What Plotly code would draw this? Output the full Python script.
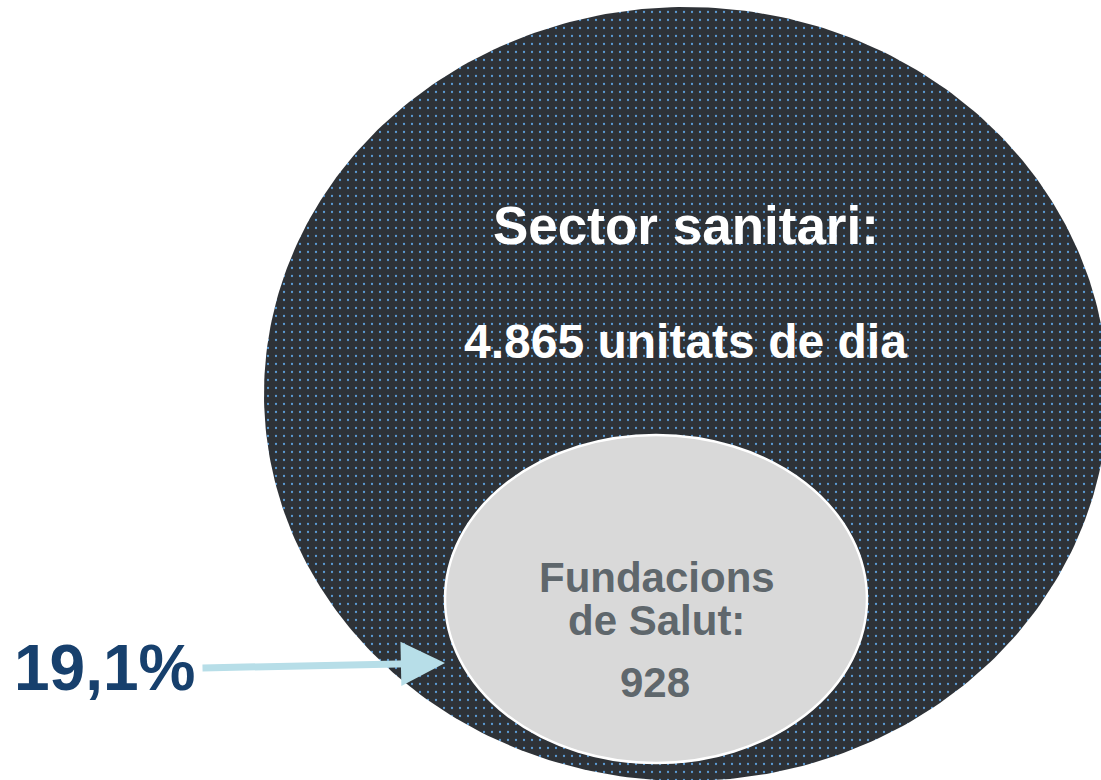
import numpy as np
import plotly.graph_objects as go

# ---- data ----
group_labels = ["Sector sanitari", "Fundacions de Salut"]
group_values = [4865, 928]          # unitats de dia
share_label = "19,1%"               # share of Fundacions de Salut
unit_text = "unitats de dia"

# ---- styling / geometry (pixel canvas) ----
W, H = 1101, 780
OFF = 0
FONT = "Liberation Sans, Arial, sans-serif"
DARK_BG = "#2E3237"
DOT = "#5B9BD5"
LIGHT = "#D9D9D9"
GRAY_TXT = "#5F676C"
BLUE_TXT = "#17406D"
ARROW = "#B7DEE8"

big_c, big_a, big_b = (686, 394), 422, 387
small_c, small_a, small_b = (656, 599), 211, 164

def fmt_thousands(v):
    return f"{v:,}".replace(",", ".")

t = np.linspace(0, 2 * np.pi, 361)
bx = big_c[0] + big_a * np.cos(t)
by = big_c[1] + big_b * np.sin(t)

fig = go.Figure()
fig.add_trace(go.Scatter(
    x=bx, y=by, mode="lines", fill="toself",
    line=dict(width=0, color=DARK_BG),
    fillcolor=DARK_BG,
    fillpattern=dict(shape=".", size=8, solidity=0.0625,
                     fgcolor=DOT, bgcolor=DARK_BG, fillmode="replace"),
    hoverinfo="skip", showlegend=False,
))

fig.add_shape(type="circle", xref="x", yref="y",
              x0=small_c[0] - small_a, x1=small_c[0] + small_a,
              y0=small_c[1] - small_b, y1=small_c[1] + small_b,
              fillcolor=LIGHT, line=dict(color="white", width=2.5), layer="above")

ann = []
ann.append(dict(x=686, y=225, text=f"{group_labels[0]}:", showarrow=False,
                font=dict(family=FONT, size=53, color="white", weight="bold"),
                xanchor="center", yanchor="middle"))
ann.append(dict(x=685, y=341, text=f"{fmt_thousands(group_values[0])} {unit_text}", showarrow=False,
                font=dict(family=FONT, size=48, color="white", weight="bold"),
                xanchor="center", yanchor="middle"))
w1, w2 = group_labels[1].split(" ", 1)
ann.append(dict(x=657, y=577, text=w1, showarrow=False,
                font=dict(family=FONT, size=42, color=GRAY_TXT, weight="bold"),
                xanchor="center", yanchor="middle"))
ann.append(dict(x=656, y=620, text=f"{w2}:", showarrow=False,
                font=dict(family=FONT, size=42, color=GRAY_TXT, weight="bold"),
                xanchor="center", yanchor="middle"))
ann.append(dict(x=655, y=682, text=fmt_thousands(group_values[1]), showarrow=False,
                font=dict(family=FONT, size=42, color=GRAY_TXT, weight="bold"),
                xanchor="center", yanchor="middle"))
ann.append(dict(x=104, y=668, text=share_label, showarrow=False,
                font=dict(family=FONT, size=64, color=BLUE_TXT, weight="bold"),
                xanchor="center", yanchor="middle"))
ann.append(dict(x=445, y=663, ax=201, ay=668, axref="x", ayref="y", xref="x", yref="y",
                text="", showarrow=True, arrowhead=2, arrowsize=1.26, arrowwidth=7,
                arrowcolor=ARROW))

fig.update_layout(
    width=W, height=H, margin=dict(l=0, r=0, t=0, b=0),
    paper_bgcolor="white", plot_bgcolor="white",
    xaxis=dict(range=[OFF, W + OFF], visible=False, fixedrange=True),
    yaxis=dict(range=[H + OFF, OFF], visible=False, fixedrange=True),
    annotations=ann, showlegend=False,
)
fig.write_html(
    "out.html",
    config={"displayModeBar": False, "staticPlot": True},
    post_script="document.body.style.margin='0';document.body.style.overflow='hidden';",
)
